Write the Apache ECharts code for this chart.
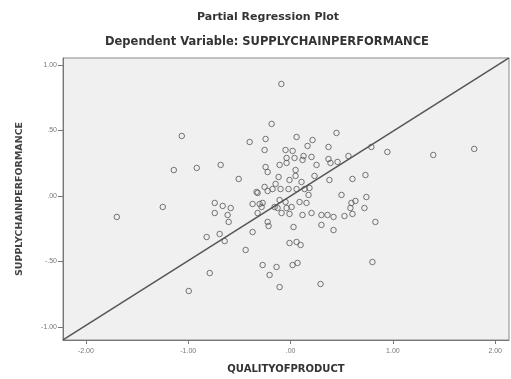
<!DOCTYPE html>
<html><head><meta charset="utf-8">
<script src="https://cdn.jsdelivr.net/npm/echarts@6/dist/echarts.min.js"></script>
<style>html,body{margin:0;padding:0;background:#fff}#c{width:511px;height:379px}</style>
</head><body><div id="c"></div>
<script>
const titleText = "Partial Regression Plot";
const subtitleText = "Dependent Variable: SUPPLYCHAINPERFORMANCE";
const xName = "QUALITYOFPRODUCT";
const yName = "SUPPLYCHAINPERFORMANCE";
const xTicks = [-2, -1, 0, 1, 2];
const xTickLabels = ["-2.00", "-1.00", ".00", "1.00", "2.00"];
const yTicks = [1, 0.5, 0, -0.5, -1];
const yTickLabels = ["1.00", ".50", ".00", "-.50", "-1.00"];
const xRange = [-2.224, 2.135];
const yRange = [-1.099, 1.053];
const fitSlope = 0.494;
const xValues = [-0.09,-0.185,-1.063,-0.40,-0.244,-0.254,-0.049,0.02,-0.039,-0.039,-1.141,-0.917,-0.683,-0.244,-0.224,-0.507,-0.117,-0.332,-0.254,-0.224,0.449,0.059,0.215,0.166,0.371,0.039,0.127,0.205,0.117,0.371,0.390,0.459,0.566,0.790,0.946,1.395,1.795,-0.107,0.049,0.049,0.254,0.234,0.380,0.605,0.732,0.498,0.741,-0.176,-0.098,-0.020,0.059,0.137,0.185,-0.741,-0.663,-0.585,-0.741,-0.615,-0.605,-0.371,-0.302,-0.283,-0.322,-0.820,-0.693,-0.644,-0.371,-0.439,-0.224,-0.215,-0.127,-0.088,-0.107,-0.049,0.010,-0.010,0.088,0.156,0.117,0.029,-0.010,0.059,0.098,-0.273,-0.205,-0.137,0.020,0.068,-0.107,-0.790,-0.322,0.595,0.634,0.585,0.722,0.205,0.302,0.361,0.420,0.527,0.605,0.302,0.420,0.829,0.800,0.293,-1.698,-1.249,-0.995,-0.156,-0.039,-0.273,0.176,0.107,-0.010,-0.146];
const yValues = [0.855,0.55,0.458,0.412,0.435,0.351,0.351,0.344,0.290,0.252,0.198,0.214,0.237,0.221,0.183,0.130,0.145,0.031,0.069,0.038,0.481,0.450,0.427,0.382,0.374,0.290,0.305,0.298,0.275,0.282,0.252,0.260,0.305,0.374,0.336,0.313,0.359,0.237,0.198,0.153,0.237,0.153,0.122,0.130,0.160,0.008,-0.008,0.053,0.053,0.053,0.053,0.053,0.061,-0.053,-0.076,-0.092,-0.130,-0.145,-0.198,-0.061,-0.061,-0.084,-0.130,-0.313,-0.290,-0.344,-0.275,-0.412,-0.198,-0.229,-0.092,-0.130,-0.031,-0.046,-0.084,-0.137,-0.046,-0.053,-0.145,-0.237,-0.359,-0.351,-0.374,-0.527,-0.603,-0.542,-0.527,-0.511,-0.695,-0.588,0.023,-0.053,-0.038,-0.092,-0.092,-0.130,-0.145,-0.145,-0.160,-0.153,-0.137,-0.221,-0.260,-0.198,-0.504,-0.672,-0.160,-0.084,-0.725,-0.084,-0.092,-0.053,0.008,0.107,0.122,0.092];

const points = xValues.map((x, i) => [x, yValues[i]]);
const fitLine = [[xRange[0], fitSlope * xRange[0]], [xRange[1], fitSlope * xRange[1]]];
const fmt = (ticks, labels) => v => { const i = ticks.findIndex(t => Math.abs(t - v) < 1e-9); return i >= 0 ? labels[i] : ''; };

const chart = echarts.init(document.getElementById('c'), null, {renderer: 'canvas'});
chart.setOption({
  animation: false,
  backgroundColor: '#ffffff',
  title: [
    {text: titleText, left: 263, textAlign: 'center', top: 7, textStyle: {fontFamily: 'DejaVu Sans', fontSize: 11, fontWeight: 'bold', color: '#333'}},
    {text: subtitleText, left: 262, textAlign: 'center', top: 31, textStyle: {fontFamily: 'DejaVu Sans', fontSize: 11.5, fontWeight: 'bold', color: '#333'}}
  ],
  grid: {left: 63, right: 2, top: 58, bottom: 39, show: true, backgroundColor: '#f0f0f0', borderColor: '#8a8a8a', borderWidth: 1},
  xAxis: {
    type: 'value', min: xRange[0], max: xRange[1],
    name: xName, nameLocation: 'middle', nameGap: 24,
    nameTextStyle: {fontFamily: 'DejaVu Sans', fontSize: 10, fontWeight: 'bold', color: '#333'},
    axisLine: {show: true, onZero: false, lineStyle: {color: '#777'}},
    axisTick: {show: true, length: 4, lineStyle: {color: '#777'}, customValues: xTicks},
    axisLabel: {fontFamily: 'Liberation Sans', fontSize: 7, color: '#777', margin: 8, customValues: xTicks, formatter: fmt(xTicks, xTickLabels)},
    splitLine: {show: false}
  },
  yAxis: {
    type: 'value', min: yRange[0], max: yRange[1],
    name: yName, nameLocation: 'middle', nameGap: 38, nameRotate: 90,
    nameTextStyle: {fontFamily: 'DejaVu Sans', fontSize: 9.5, fontWeight: 'bold', color: '#444'},
    axisLine: {show: true, onZero: false, lineStyle: {color: '#777'}},
    axisTick: {show: true, length: 5, lineStyle: {color: '#777'}, customValues: yTicks},
    axisLabel: {fontFamily: 'Liberation Sans', fontSize: 7, color: '#777', margin: 6, customValues: yTicks, formatter: fmt(yTicks, yTickLabels)},
    splitLine: {show: false}
  },
  series: [
    {type: 'line', data: fitLine, symbol: 'none', lineStyle: {color: '#555', width: 1.5}, z: 3},
    {type: 'scatter', data: points, symbol: 'circle', symbolSize: 5.5,
     itemStyle: {color: 'rgba(0,0,0,0)', borderColor: '#555', borderWidth: 1}, z: 2}
  ]
});
</script>
</body></html>
